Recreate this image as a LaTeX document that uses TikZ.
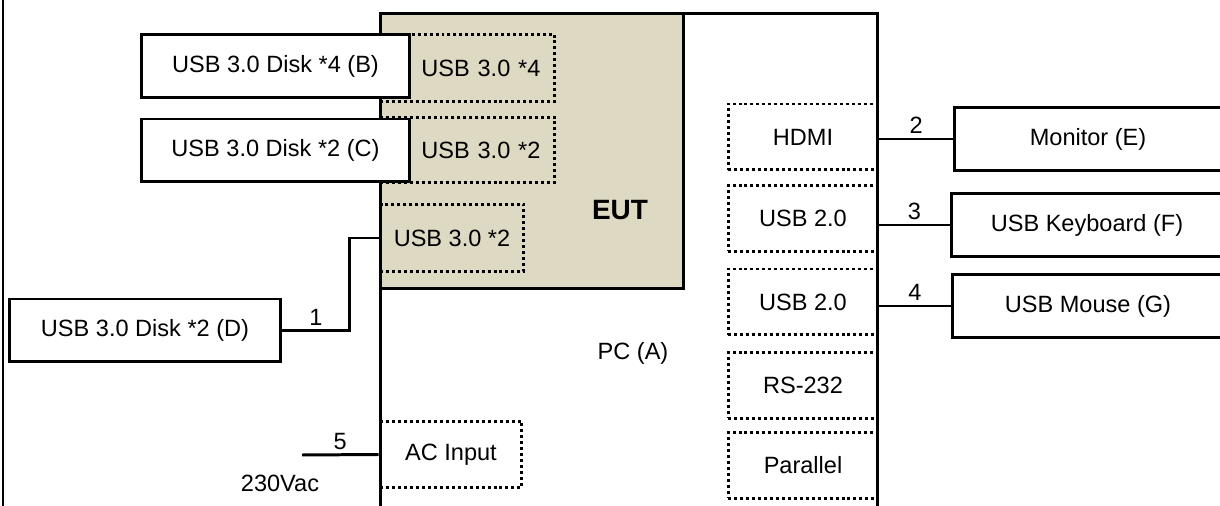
\documentclass[tikz,border=0pt]{standalone}
\usepackage{fontspec}
\setmainfont{Liberation Sans}
\usetikzlibrary{positioning}

\begin{document}
\begin{tikzpicture}[x=0.02cm,y=-0.02cm,
    txt/.style={font=\fontsize{13.4}{16}\selectfont, inner sep=0pt},
    dev/.style={txt, draw, line width=1.7pt, fill=white, minimum height=1.26cm},
    port/.style={txt, draw, line width=1.7pt, dash pattern=on 1.7pt off 1.7pt, minimum height=1.32cm},
    portr/.style={port, text width=2.92cm, inner xsep=0.29cm, align=right},
    wire/.style={line width=1.7pt},
    num/.style={txt, above, inner sep=2pt}]
    \useasboundingbox (0,0) rectangle (1220,506);
    \clip (0,0) rectangle (1220,506);
    % bordo sinistro
    \draw[line width=0.6pt] (3,0) -- (3,506);

    % PC ed EUT
    \node[draw, line width=1.7pt, minimum width=9.96cm, minimum height=11.46cm] (pc) at (629,300) {};
    \node[txt] (pclabel) at (633,353) {PC (A)};
    \node[draw, line width=1.7pt, fill={rgb,255:red,221;green,217;blue,195}, minimum width=6.07cm, minimum height=5.5cm] (eut) at (531.75,151) {};
    \node[txt, font=\fontsize{15.9}{18}\selectfont\bfseries] (eutlabel) at (620,210) {EUT};

    % porte
    \node[portr, minimum height=1.34cm] (usb34) at (467.5,68) {USB 3.0 *4};
    \node[portr, minimum height=1.3cm] (usb32a) at (467.5,150) {USB 3.0 *2};
    \node[port, minimum width=2.88cm, minimum height=1.34cm] (usb32b) at (452,238) {USB 3.0 *2};
    \node[port, minimum width=2.84cm] (acin) at (451,454.5) {AC Input};
    \node[port, minimum width=3cm] (hdmi) at (803,137) {HDMI};
    \node[port, minimum width=3cm] (usb20a) at (803,218.5) {USB 2.0};
    \node[port, minimum width=3cm] (usb20b) at (803,302) {USB 2.0};
    \node[port, minimum width=3cm] (rs232) at (803,385.5) {RS-232};
    \node[port, minimum width=3cm] (parallel) at (803,465.5) {Parallel};

    % periferiche
    \node[dev, minimum width=5.36cm] (diskB) at (275.5,66) {USB 3.0 Disk *4 (B)};
    \node[dev, minimum width=5.36cm] (diskC) at (275.5,150.5) {USB 3.0 Disk *2 (C)};
    \node[dev, minimum width=5.42cm] (diskD) at (145,330.5) {USB 3.0 Disk *2 (D)};
    \node[dev, minimum width=5.34cm] (monitor) at (1088,139) {Monitor (E)};
    \node[dev, minimum width=5.44cm] (keyboard) at (1087,225) {USB Keyboard (F)};
    \node[dev, minimum width=5.44cm] (mouse) at (1088,306) {USB Mouse (G)};

    % cavi
    \draw[wire] (diskD.east) -- ++(68,0) node[num, midway]{1} |- (usb32b.west);
    \draw[wire] (monitor.west -| pc.east) -- node[num]{2} (monitor.west);
    \draw[wire] (keyboard.west -| pc.east) -- node[num]{3} (keyboard.west);
    \draw[wire] (mouse.west -| pc.east) -- node[num]{4} (mouse.west);
    \coordinate (mains) at (302,455);
    \draw[wire] (mains) -- node[num]{5} (acin.west);
    \node[txt] (vac) at (280,483) {230Vac};
\end{tikzpicture}
\end{document}
